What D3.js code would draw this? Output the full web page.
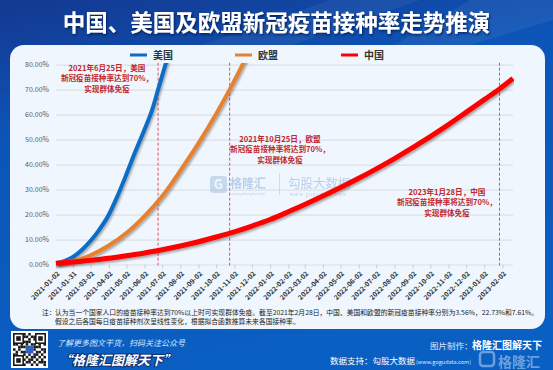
<!DOCTYPE html>
<html>
<head>
<meta charset="utf-8">
<script src="https://cdn.jsdelivr.net/npm/d3@7"></script>
<style>
html, body { margin: 0; padding: 0; background: #0b5cbf; }
svg { display: block; font-family: "Noto Sans CJK SC", "Noto Sans", sans-serif; }
</style>
</head>
<body>
<div id="chart"></div>
<script>
// vaccination rate (%)
var usData = [
    ["2021-01-02", 0.5], ["2021-01-16", 1.3], ["2021-01-31", 3.0], ["2021-02-15", 5.8],
    ["2021-03-02", 9.5], ["2021-03-17", 14.0], ["2021-04-01", 19.5], ["2021-04-16", 27.0],
    ["2021-05-01", 35.5], ["2021-05-16", 44.5], ["2021-05-31", 53.0], ["2021-06-15", 62.0],
    ["2021-06-25", 70.0], ["2021-07-05", 78.0], ["2021-07-10", 82.0]
];
var euData = [
    ["2021-01-02", 0.5], ["2021-01-31", 1.4], ["2021-03-02", 3.7], ["2021-04-02", 7.6],
    ["2021-05-02", 12.6], ["2021-06-02", 19.4], ["2021-07-02", 27.3], ["2021-08-02", 37.6],
    ["2021-09-02", 48.6], ["2021-10-02", 60.3], ["2021-10-25", 70.0], ["2021-11-16", 80.0],
    ["2021-11-25", 84.5]
];
var cnData = [
    ["2021-01-02", 0.5], ["2021-01-31", 1.0], ["2021-03-02", 1.7], ["2021-04-02", 2.5],
    ["2021-05-02", 3.5], ["2021-06-02", 4.6], ["2021-07-02", 5.9], ["2021-08-02", 7.4],
    ["2021-09-02", 9.1], ["2021-10-02", 11.0], ["2021-11-02", 13.1], ["2021-12-02", 15.4],
    ["2022-01-02", 18.0], ["2022-02-02", 21.1], ["2022-03-02", 24.0], ["2022-04-02", 27.4],
    ["2022-05-02", 30.8], ["2022-06-02", 34.5], ["2022-07-02", 38.3], ["2022-08-02", 42.4],
    ["2022-09-02", 46.8], ["2022-10-02", 51.2], ["2022-11-02", 56.0], ["2022-12-02", 60.9],
    ["2023-01-02", 66.0], ["2023-01-28", 70.3], ["2023-02-20", 74.5]
];

var seriesNames = ["美国", "欧盟", "中国"];
var seriesColors = ["#0a6cc4", "#e8812f", "#ff0000"];
var seriesWidths = [4, 4, 5];

var xTickLabels = [
    "2021-01-02", "2021-01-31", "2021-03-02", "2021-04-02", "2021-05-02", "2021-06-02",
    "2021-07-02", "2021-08-02", "2021-09-02", "2021-10-02", "2021-11-02", "2021-12-02",
    "2022-01-02", "2022-02-02", "2022-03-02", "2022-04-02", "2022-05-02", "2022-06-02",
    "2022-07-02", "2022-08-02", "2022-09-02", "2022-10-02", "2022-11-02", "2022-12-02",
    "2023-01-02", "2023-02-02"
];
var yTicks = [0, 10, 20, 30, 40, 50, 60, 70, 80];
var xDomain = ["2021-01-02", "2023-02-20"];

// herd immunity dates + notes
var markDates = ["2021-06-25", "2021-10-25", "2023-01-28"];
var markNotes = [
    ["2021年6月25日，美国", "新冠疫苗接种率达到70%，", "实现群体免疫"],
    ["2021年10月25日，欧盟", "新冠疫苗接种率将达到70%，", "实现群体免疫"],
    ["2023年1月28日，中国", "新冠疫苗接种率将达到70%，", "实现群体免疫"]
];
var notePos = [[107, 71], [280, 142], [447, 195]];

var W = 553, H = 370;
var parseDate = d3.timeParse("%Y-%m-%d");

var xScale = d3.scaleTime()
    .domain(xDomain.map(parseDate))
    .range([56, 513]);
var yScale = d3.scaleLinear()
    .domain([0, 80])
    .range([264.5, 64.7]);

var svg = d3.select("#chart").append("svg")
    .attr("width", W)
    .attr("height", H);

var defs = svg.append("defs");

var bg = defs.append("linearGradient").attr("id", "bg")
    .attr("x1", 0).attr("y1", 0).attr("x2", 0.3).attr("y2", 1);
bg.append("stop").attr("offset", "0%").attr("stop-color", "#143890");
bg.append("stop").attr("offset", "35%").attr("stop-color", "#0d55b8");
bg.append("stop").attr("offset", "100%").attr("stop-color", "#0a5fc3");

var shadow = defs.append("filter").attr("id", "shadow")
    .attr("x", "-10%").attr("y", "-10%").attr("width", "130%").attr("height", "130%");
shadow.append("feDropShadow")
    .attr("dx", 1.2).attr("dy", 1.8).attr("stdDeviation", 1)
    .attr("flood-color", "#000").attr("flood-opacity", 0.35);

var tshadow = defs.append("filter").attr("id", "tshadow");
tshadow.append("feDropShadow")
    .attr("dx", 1).attr("dy", 1.5).attr("stdDeviation", 1)
    .attr("flood-color", "#061a45").attr("flood-opacity", 0.8);

defs.append("clipPath").attr("id", "plotclip")
    .append("rect")
    .attr("x", 50).attr("y", 63)
    .attr("width", 464).attr("height", 210);

// background + streaks
svg.append("rect").attr("width", W).attr("height", H).attr("fill", "url(#bg)");
svg.append("path")
    .attr("d", "M330,0 L420,0 L250,60 L160,60 Z")
    .attr("fill", "#ffffff").attr("opacity", 0.05);
svg.append("path")
    .attr("d", "M470,0 L553,0 L553,20 L420,60 L370,60 Z")
    .attr("fill", "#ffffff").attr("opacity", 0.06);

// title
svg.append("text")
    .attr("x", W / 2).attr("y", 31)
    .attr("text-anchor", "middle")
    .attr("fill", "#fff")
    .attr("font-size", 22.5)
    .attr("font-weight", "bold")
    .attr("filter", "url(#tshadow)")
    .text("中国、美国及欧盟新冠疫苗接种率走势推演");

// panel
svg.append("rect")
    .attr("x", 10).attr("y", 45)
    .attr("width", 535).attr("height", 284)
    .attr("rx", 14)
    .attr("fill", "#eff6fd");

// legend
var legendX = [130, 235, 341];
seriesNames.forEach(function (name, i) {
    svg.append("line")
        .attr("x1", legendX[i]).attr("x2", legendX[i] + 17)
        .attr("y1", 55).attr("y2", 55)
        .attr("stroke", seriesColors[i])
        .attr("stroke-width", 3);
    svg.append("text")
        .attr("x", legendX[i] + 23).attr("y", 58.8)
        .attr("font-size", 10)
        .attr("font-weight", "bold")
        .attr("fill", "#333")
        .text(name);
});

// gridlines
svg.append("g")
    .attr("class", "grid")
    .attr("transform", "translate(56,0)")
    .call(d3.axisLeft(yScale).tickValues(yTicks).tickSize(-457).tickFormat(""))
    .call(function (g) {
        g.select(".domain").remove();
        g.selectAll("line").attr("stroke", "#dbe0e6").attr("stroke-width", 1.2);
    });

// y labels
svg.append("g")
    .attr("transform", "translate(52,0)")
    .call(d3.axisLeft(yScale).tickValues(yTicks).tickSize(0)
        .tickFormat(function (d) { return d.toFixed(2) + "%"; }))
    .call(function (g) {
        g.select(".domain").remove();
        g.selectAll("text")
            .attr("font-size", 7)
            .attr("fill", "#595959")
            .attr("font-family", "\"Noto Sans CJK SC\", \"Noto Sans\", sans-serif");
    });

// x axis ticks + rotated labels
var xAxis = svg.append("g")
    .attr("transform", "translate(0,264.5)")
    .call(d3.axisBottom(xScale)
        .tickValues(xTickLabels.map(parseDate))
        .tickSize(4)
        .tickFormat(d3.timeFormat("%Y-%m-%d")));
xAxis.select(".domain").remove();
xAxis.selectAll("line").attr("stroke", "#c9ced5");
xAxis.selectAll("text")
    .attr("font-size", 6.8)
    .attr("font-weight", 600)
    .attr("fill", "#333")
    .attr("font-family", "\"Noto Sans CJK SC\", \"Noto Sans\", sans-serif")
    .attr("text-anchor", "end")
    .attr("y", 0).attr("x", 0)
    .attr("dy", "0.35em")
    .attr("transform", "translate(2,8) rotate(-45)");

// dashed markers
svg.selectAll(".mark")
    .data(markDates)
    .enter().append("line")
    .attr("class", "mark")
    .attr("x1", function (d) { return xScale(parseDate(d)); })
    .attr("x2", function (d) { return xScale(parseDate(d)); })
    .attr("y1", yScale(80) - 2)
    .attr("y2", yScale(0) + 1)
    .attr("stroke", "#e0505a")
    .attr("stroke-width", 1)
    .attr("stroke-dasharray", "3,2");

// watermark
var wm = svg.append("g").attr("opacity", 0.55);
wm.append("rect")
    .attr("x", 210).attr("y", 176).attr("width", 17).attr("height", 17)
    .attr("rx", 3).attr("fill", "#a9c3e3");
wm.append("text")
    .attr("x", 218.5).attr("y", 189).attr("text-anchor", "middle")
    .attr("font-size", 13).attr("font-weight", "bold").attr("fill", "#eff6fd")
    .text("G");
wm.append("text")
    .attr("x", 230).attr("y", 187.5)
    .attr("font-size", 12).attr("font-weight", "bold").attr("fill", "#8fb0da")
    .text("格隆汇");
wm.append("text")
    .attr("x", 231).attr("y", 195)
    .attr("font-size", 3.6).attr("fill", "#8fb0da")
    .text("www.gelonghui.com");
wm.append("line")
    .attr("x1", 279.5).attr("x2", 279.5).attr("y1", 173).attr("y2", 195)
    .attr("stroke", "#b5c9e2").attr("stroke-width", 1);
wm.append("text")
    .attr("x", 288).attr("y", 187.5)
    .attr("font-size", 12.5).attr("fill", "#8fb0da")
    .text("勾股大数据");
wm.append("text")
    .attr("x", 290).attr("y", 195.5)
    .attr("font-size", 4.6).attr("letter-spacing", 0.9).attr("fill", "#8fb0da")
    .text("www.gogudata.com");

// series lines
var line = d3.line()
    .curve(d3.curveMonotoneX)
    .x(function (d) { return xScale(parseDate(d[0])); })
    .y(function (d) { return yScale(d[1]); });

var plot = svg.append("g").attr("clip-path", "url(#plotclip)");
[usData, euData, cnData].forEach(function (data, i) {
    plot.append("path")
        .datum(data)
        .attr("fill", "none")
        .attr("stroke", seriesColors[i])
        .attr("stroke-width", seriesWidths[i])
        .attr("filter", "url(#shadow)")
        .attr("d", line);
});

// annotations
markNotes.forEach(function (lines, i) {
    var t = svg.append("text")
        .attr("text-anchor", "middle")
        .attr("font-size", 7.6)
        .attr("font-weight", "bold")
        .attr("fill", "#c0262d");
    lines.forEach(function (s, j) {
        t.append("tspan")
            .attr("x", notePos[i][0])
            .attr("y", notePos[i][1] + j * 10.3)
            .text(s);
    });
});

// footnote
svg.append("text")
    .attr("x", 42).attr("y", 314.5)
    .attr("font-size", 6.8).attr("fill", "#222")
    .text("注：");
svg.append("text")
    .attr("x", 55).attr("y", 314.5)
    .attr("font-size", 6.8).attr("fill", "#222")
    .text("认为当一个国家人口的疫苗接种率达到70%以上时可实现群体免疫。截至2021年2月28日，中国、美国和欧盟的新冠疫苗接种率分别为3.56%，22.73%和7.61%。");
svg.append("text")
    .attr("x", 55).attr("y", 323.5)
    .attr("font-size", 6.8).attr("fill", "#222")
    .text("假设之后各国每日疫苗接种剂次呈线性变化，根据拟合函数推算未来各国接种率。");

// footer: QR block
var qr = svg.append("g").attr("transform", "translate(11,331)");
qr.append("rect").attr("width", 37).attr("height", 37).attr("fill", "#fff");
var qrRows = [
    "1110101001011", "0010110110100", "1011001010111", "0100111001010",
    "1101010110101", "0011101011100", "1010011010011", "0101110101101",
    "1100101011010", "0011010110101", "1010101101010", "0101011010111",
    "1110100101001"
];
qrRows.forEach(function (row, r) {
    row.split("").forEach(function (c, k) {
        if (c === "1") {
            qr.append("rect")
                .attr("x", 2 + k * 2.54).attr("y", 2 + r * 2.54)
                .attr("width", 2.54).attr("height", 2.54)
                .attr("fill", "#1a1a1a");
        }
    });
});
[[2, 2], [24, 2], [2, 24]].forEach(function (p) {
    qr.append("rect").attr("x", p[0]).attr("y", p[1]).attr("width", 11).attr("height", 11).attr("fill", "#1a1a1a");
    qr.append("rect").attr("x", p[0] + 1.6).attr("y", p[1] + 1.6).attr("width", 7.8).attr("height", 7.8).attr("fill", "#fff");
    qr.append("rect").attr("x", p[0] + 3.2).attr("y", p[1] + 3.2).attr("width", 4.6).attr("height", 4.6).attr("fill", "#1a1a1a");
});
qr.append("rect").attr("x", 15).attr("y", 15).attr("width", 7).attr("height", 7).attr("fill", "#2a66c0");

svg.append("text")
    .attr("x", 57).attr("y", 346)
    .attr("font-size", 8).attr("font-style", "italic")
    .attr("fill", "#d6e6fb")
    .text("了解更多图文干货，扫码关注公众号");
svg.append("text")
    .attr("x", 59).attr("y", 364.5)
    .attr("font-size", 13).attr("font-weight", "bold").attr("font-style", "italic")
    .attr("fill", "#fff")
    .attr("stroke", "#0a2f6f").attr("stroke-width", 2).attr("paint-order", "stroke")
    .text("“格隆汇图解天下”");

svg.append("text")
    .attr("x", 430).attr("y", 349)
    .attr("font-size", 8.5).attr("fill", "#dfe9f8")
    .text("图片制作：");
svg.append("text")
    .attr("x", 472).attr("y", 349)
    .attr("font-size", 10).attr("font-weight", "bold").attr("fill", "#fff")
    .text("格隆汇图解天下");
svg.append("text")
    .attr("x", 330).attr("y", 364)
    .attr("font-size", 8.5).attr("fill", "#fff")
    .text("数据支持：勾股大数据");
svg.append("text")
    .attr("x", 416).attr("y", 364)
    .attr("font-size", 5.5).attr("fill", "#dfe9f8")
    .text("(www.gogudata.com)");

// corner logo overlay
var logo = svg.append("g").attr("opacity", 0.4);
logo.append("rect")
    .attr("x", 480).attr("y", 352).attr("width", 14).attr("height", 14)
    .attr("rx", 3).attr("fill", "none").attr("stroke", "#fff").attr("stroke-width", 2.5);
logo.append("text")
    .attr("x", 498).attr("y", 367)
    .attr("font-size", 14).attr("font-weight", "bold").attr("fill", "#fff")
    .text("格隆汇");
</script>
</body>
</html>
